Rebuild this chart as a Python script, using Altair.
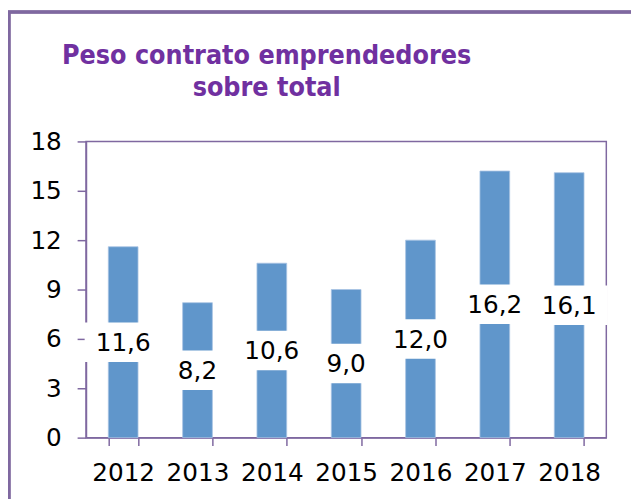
import altair as alt
import pandas as pd

years = ["2012", "2013", "2014", "2015", "2016", "2017", "2018"]
values = [11.6, 8.2, 10.6, 9.0, 12.0, 16.2, 16.1]
labels = ["11,6", "8,2", "10,6", "9,0", "12,0", "16,2", "16,1"]
y_ticks = [0, 3, 6, 9, 12, 15, 18]
title_text = ["Peso contrato emprendedores\nsobre total"]

df = pd.DataFrame({"year": years, "value": values, "label": labels})
df["mid"] = df["value"] / 2
tdf = pd.DataFrame({"t": title_text})

AXIS = "#7F68A0"
BAR = "#6096CB"
FONT = "DejaVu Sans"

x = alt.X("year:N", sort=years,
          scale=alt.Scale(paddingInner=0.6, paddingOuter=0.3),
          axis=alt.Axis(title=None, labelAngle=0, labelFontSize=25, labelColor="black",
                        labelFont=FONT, domainColor=AXIS, domainWidth=1.5,
                        tickColor=AXIS, tickWidth=1.5, tickSize=8, tickBand="extent",
                        labelPadding=15))

bars = alt.Chart(df).mark_bar(color=BAR, stroke="#A9C4E3", strokeWidth=0.8).encode(
    x=x,
    y=alt.Y("value:Q", scale=alt.Scale(domain=[0, 18], nice=False),
            axis=alt.Axis(title=None, values=y_ticks, labelFontSize=25, labelColor="black",
                          labelFont=FONT, domainColor=AXIS, domainWidth=1.5,
                          tickColor=AXIS, tickWidth=1.5, tickSize=9, labelPadding=16,
                          grid=False)),
)

boxes = alt.Chart(df).mark_point(
    shape="M-1,-0.513L1,-0.513L1,0.513L-1,0.513Z", size=78 * 78,
    filled=True, fill="white", stroke=None, opacity=1
).encode(x=alt.X("year:N", sort=years), y=alt.Y("mid:Q"))

texts = alt.Chart(df).mark_text(font=FONT, fontSize=25, color="black", baseline="middle",
                                dy=1).encode(
    x=alt.X("year:N", sort=years), y=alt.Y("mid:Q"), text="label:N")

frame = alt.Chart(df).mark_rect(fill=None, stroke=AXIS, strokeWidth=2.5).encode(
    x=alt.value(-78), x2=alt.value(700), y=alt.value(-131), y2=alt.value(500))

title = alt.Chart(tdf).mark_text(
    font="DejaVu Sans Condensed", fontSize=27, fontWeight="bold", color="#7030A0",
    align="center", baseline="alphabetic", lineBreak="\n", lineHeight=32
).encode(x=alt.value(183), y=alt.value(-78), text="t:N")

chart = alt.layer(frame, bars, boxes, texts, title).properties(
    width=527, height=300,
    autosize=alt.AutoSizeParams(type="none"),
    padding={"left": 79, "top": 132, "right": 25, "bottom": 59},
).configure_view(stroke=AXIS, strokeWidth=1.5)

chart.save("out.html", embed_options={"renderer": "svg", "actions": False})
